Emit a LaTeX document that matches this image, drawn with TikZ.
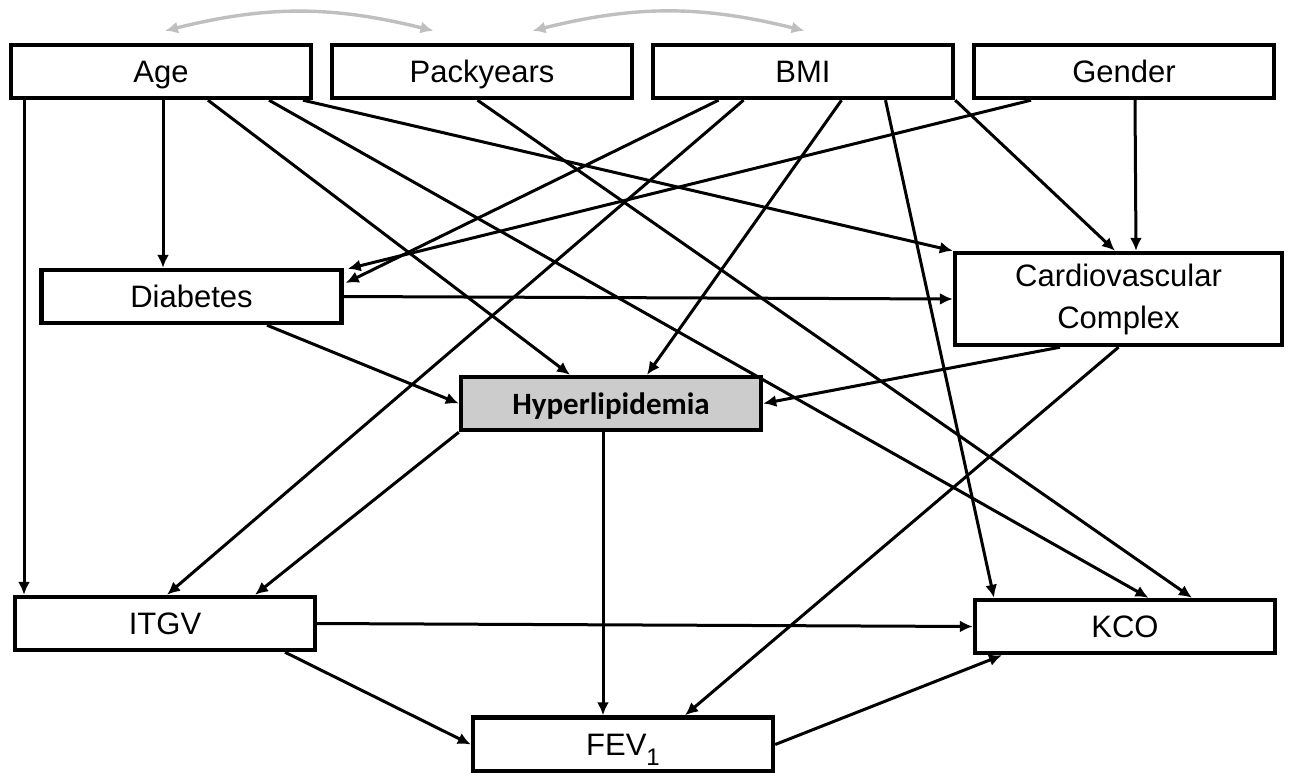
\documentclass[tikz,border=0pt]{standalone}
\usepackage{fontspec}
\setmainfont{Liberation Sans}
\newfontfamily\hyperfont{Carlito}
\usetikzlibrary{arrows.meta}
\tikzstyle{block} = [draw, line width=2.2pt, rectangle, fill=white, inner sep=0pt,
    minimum height=26.5pt, minimum width=150pt, font=\fontsize{15.5}{21}\selectfont]
\tikzstyle{var} = [block, text height=14pt, text depth=3pt]
\tikzstyle{link} = [->, line width=1.5pt]
\tikzstyle{corr} = [<->, line width=1.7pt, gray!50]

\begin{document}
\begin{tikzpicture}[x=0.5pt, y=-0.5pt, node distance=160.5pt, >={Latex[length=6.5pt,width=6pt]}]
    \useasboundingbox (0,0) rectangle (1290,772);
    % top row
    \node [var] at (161,71.5) (age) {Age};
    \node [var, right of=age] (pack) {Packyears};
    \node [var, right of=pack] (bmi) {BMI};
    \node [var, right of=bmi] (gender) {Gender};
    % middle
    \node [block, align=center, minimum width=163.5pt, minimum height=46pt] at (1118.5,299) (cardio) {Cardiovascular\\ Complex};
    \node [var] at (191.5,296.5) (diab) {Diabetes};
    \node [var, fill=gray!40] at (611,403.5) (hyper) {\hyperfont\bfseries Hyperlipidemia};
    % bottom
    \node [var] at (165,623.5) (itgv) {ITGV};
    \node [var] at (1125,626.5) (kco) {KCO};
    \node [var, minimum height=27pt] at (623,744.5) (fev) {FEV\raisebox{-5pt}{\fontsize{12}{12}\selectfont 1}};

    \draw [corr] ([shift={(4,-12)}]age.north) to[bend left=14] ([shift={(-48.5,-12)}]pack.north);
    \draw [corr] ([shift={(50.5,-12)}]pack.north) to[bend left=14] ([shift={(1.5,-12)}]bmi.north);

    \draw [link] ([shift={(-137,0)}]age.south) -- ([shift={(-141,0)}]itgv.north);
    \draw [link] ([shift={(2,0)}]age.south) -- ([shift={(-28.5,0)}]diab.north);
    \draw [link] ([shift={(47,0)}]age.south) -- ([shift={(-41,0)}]hyper.north);
    \draw [link] ([shift={(108,0)}]age.south) -- ([shift={(23.5,0)}]kco.north);
    \draw [link] ([shift={(142,0)}]age.south) -- (cardio.north west);
    \draw [link] ([shift={(-4.5,0)}]pack.south) -- ([shift={(67,0)}]kco.north);
    \draw [link] ([shift={(-84.5,0)}]bmi.south) -- ([shift={(2,-13.5)}]diab.east);
    \draw [link] ([shift={(-59.5,0)}]bmi.south) -- ([shift={(2,0)}]itgv.north);
    \draw [link] ([shift={(38.5,0)}]bmi.south) -- ([shift={(36,0)}]hyper.north);
    \draw [link] ([shift={(82.5,0)}]bmi.south) -- ([shift={(-131,0)}]kco.north);
    \draw [link] (bmi.south east) -- ([shift={(-3.5,0)}]cardio.north);
    \draw [link] ([shift={(-93,0)}]gender.south) -- ([shift={(4,1)}]diab.north east);
    \draw [link] ([shift={(11,0)}]gender.south) -- ([shift={(17.5,0)}]cardio.north);
    \draw [link] (diab.east) -- (cardio.west);
    \draw [link] ([shift={(75.5,0)}]diab.south) -- (hyper.west);
    \draw [link] ([shift={(-58.5,0)}]cardio.south) -- (hyper.east);
    \draw [link] (cardio.south) -- ([shift={(62,0)}]fev.north);
    \draw [link] (hyper.south west) -- ([shift={(90,0)}]itgv.north);
    \draw [link] ([shift={(-8,0)}]hyper.south) -- ([shift={(-20,0)}]fev.north);
    \draw [link] (itgv.east) -- (kco.west);
    \draw [link] ([shift={(120,0)}]itgv.south) -- (fev.west);
    \draw [link] (fev.east) -- ([shift={(-123,0)}]kco.south);
\end{tikzpicture}
\end{document}
